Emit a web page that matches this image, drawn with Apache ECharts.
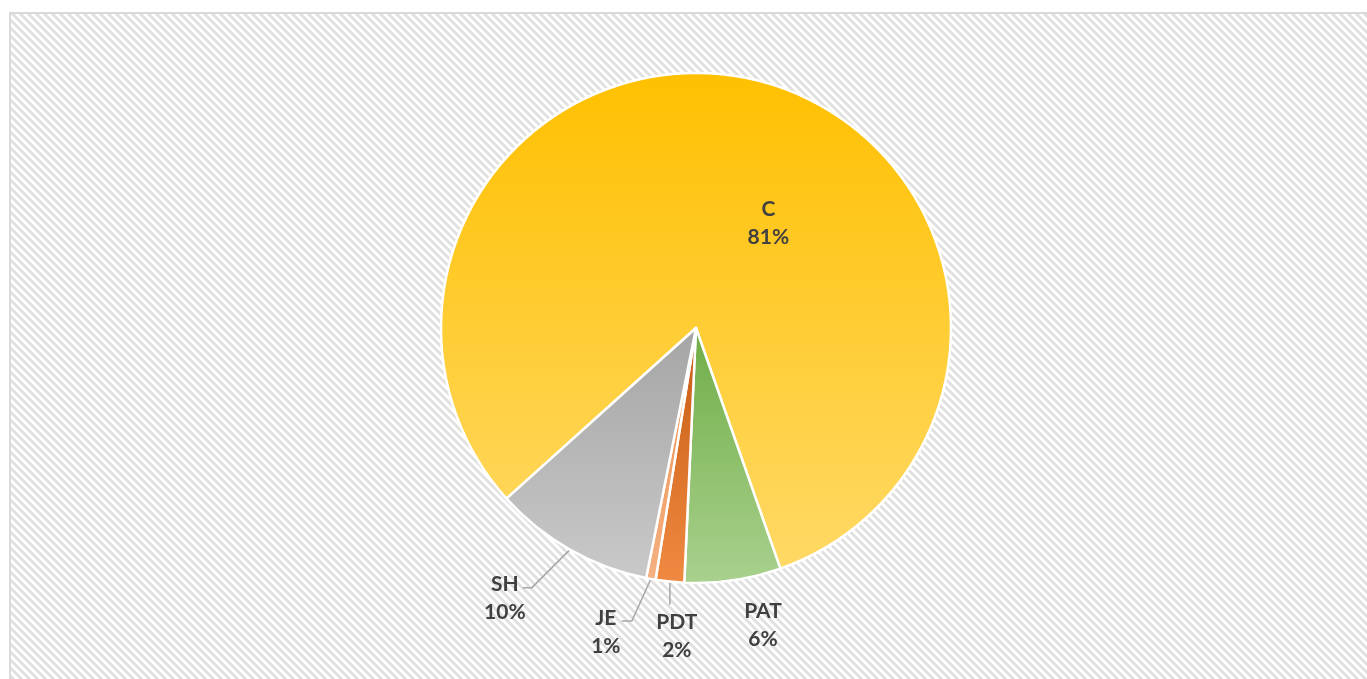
<!DOCTYPE html>
<html>
<head>
<meta charset="utf-8">
<script src="https://cdn.jsdelivr.net/npm/echarts@6/dist/echarts.min.js"></script>
<style>
    html, body { margin: 0; padding: 0; background: #fff; }
    .frame {
        position: absolute;
        left: 9px;
        top: 12px;
        width: 1400px;
        height: 700px;
        border: 2px solid #d9d9d9;
        background-color: #fff;
    }
    #chart { position: absolute; left: 0; top: 0; width: 1367px; height: 679px; }
</style>
</head>
<body>
<div class="frame" id="frame"></div>
<div id="chart"></div>
<script>
// data
var categories = ['C', 'PAT', 'PDT', 'JE', 'SH']
var values = [81.3, 6.1, 1.8, 0.6, 10.2]

// gradient colours per slice (top -> bottom)
var topColors = ['#ffc000', '#70ad47', '#c55a11', '#f08a42', '#a5a5a5']
var bottomColors = ['#ffd966', '#a9d18e', '#f08a42', '#f4b183', '#c9c9c9']

var fontColor = '#404040'
var lineColor = '#a6a6a6'

// hatched background tile (diagonal stripes)
var tile = document.createElement('canvas')
tile.width = 8
tile.height = 8
var tctx = tile.getContext('2d')
tctx.fillStyle = '#ffffff'
tctx.fillRect(0, 0, 8, 8)
tctx.fillStyle = '#e1e1e1'
for (var ty = 0; ty < 8; ty++) {
    for (var tx = 0; tx < 8; tx++) {
        if (((tx - ty) % 8 + 8) % 8 < 4) tctx.fillRect(tx, ty, 1, 1)
    }
}
document.getElementById('frame').style.backgroundImage = 'url(' + tile.toDataURL() + ')'

var myChart = echarts.init(document.getElementById('chart'))

var seriesData = []
for (var i = 0; i < categories.length; i++) {
    seriesData.push({
        name: categories[i],
        value: values[i],
        itemStyle: {
            color: {
                type: 'linear', x: 0, y: 0, x2: 0, y2: 1,
                colorStops: [
                    { offset: 0, color: topColors[i] },
                    { offset: 1, color: bottomColors[i] }
                ]
            }
        },
        label: {
            position: i === 0 ? 'inside' : 'outside'
        }
    })
}

// label placement relative to the slice edge point given by echarts
function placeLabel(params) {
    var idx = params.dataIndex
    var pts = params.labelLinePoints
    if (idx === 0) {
        return { dx: 40, dy: 22 }
    }
    if (!pts) return {}
    var p0 = pts[0]
    var p1, p2
    if (idx === 4) { // SH
        p1 = [p0[0] - 38, p0[1] + 38]
        p2 = [p1[0] - 9, p1[1]]
        return { x: p2[0] - 18, y: p2[1] - 17, align: 'center', verticalAlign: 'top', labelLinePoints: [p0, p1, p2] }
    }
    if (idx === 3) { // JE
        p1 = [p0[0] - 19, p0[1] + 42]
        p2 = [p1[0] - 10, p1[1]]
        return { x: p2[0] - 16, y: p2[1] - 17, align: 'center', verticalAlign: 'top', labelLinePoints: [p0, p1, p2] }
    }
    if (idx === 2) { // PDT
        p1 = [p0[0], p0[1] + 23]
        return { x: p0[0] + 7, y: p1[1] + 4, align: 'center', verticalAlign: 'top', labelLinePoints: [p0, p1, p1] }
    }
    // PAT, no leader line
    return { x: p0[0] + 30, y: p0[1] + 17, align: 'center', verticalAlign: 'top', labelLinePoints: [p0, p0, p0] }
}

var option = {
    backgroundColor: 'transparent',
    animation: false,
    series: [{
        type: 'pie',
        center: [696, 328],
        radius: 255,
        startAngle: 222,
        clockwise: true,
        avoidLabelOverlap: false,
        itemStyle: {
            borderColor: '#ffffff',
            borderWidth: 2.5
        },
        label: {
            show: true,
            color: fontColor,
            fontFamily: 'Lato',
            fontWeight: 'bold',
            fontSize: 21,
            lineHeight: 28,
            formatter: function(p) {
                return p.name + '\n' + Math.round(p.percent) + '%'
            }
        },
        labelLine: {
            show: true,
            length: 30,
            length2: 10,
            lineStyle: { color: lineColor, width: 1.5 }
        },
        labelLayout: placeLabel,
        data: seriesData
    }]
}
myChart.setOption(option)

window.addEventListener('resize', function() {
    myChart.resize()
})
</script>
</body>
</html>
